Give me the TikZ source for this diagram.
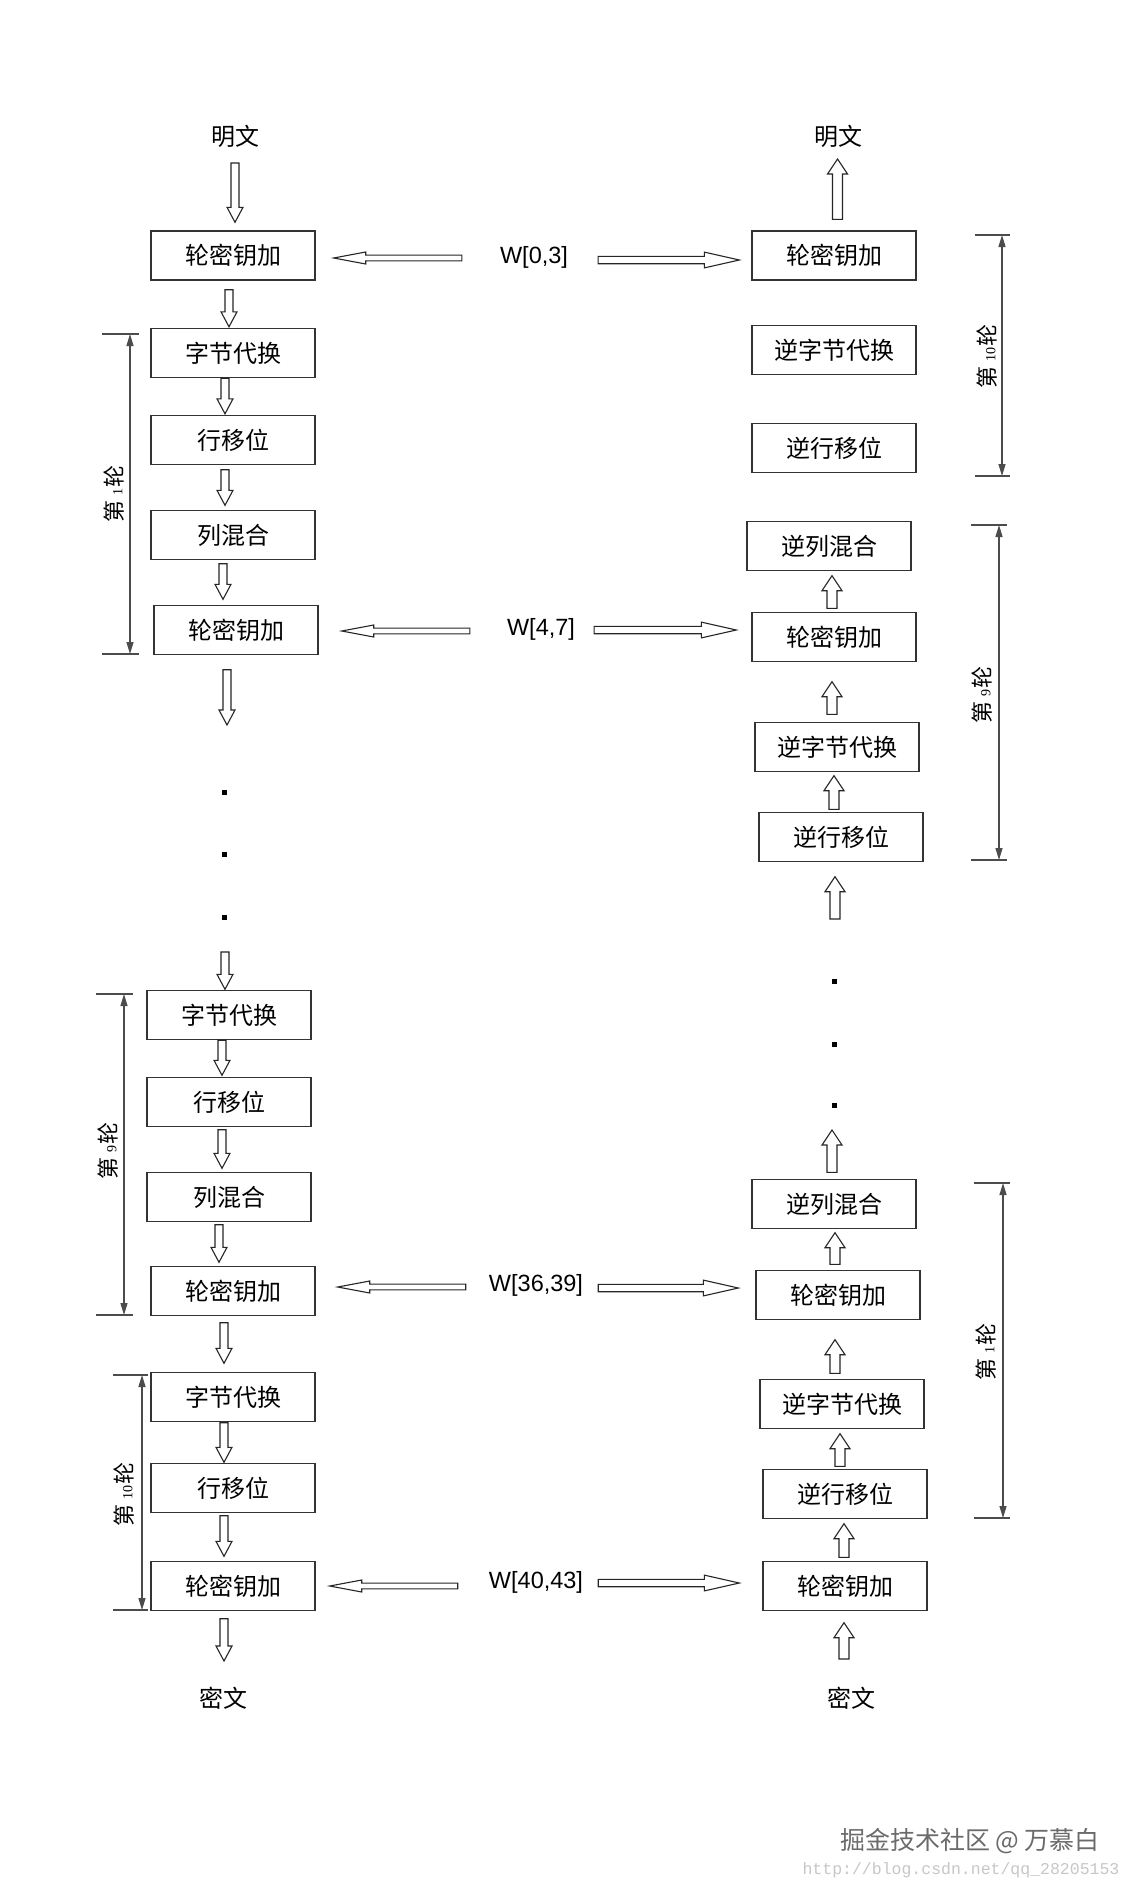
\documentclass[tikz,border=0pt]{standalone}
\usepackage{fontspec}
\setmainfont{Liberation Sans}
\newfontfamily\cjk{Noto Sans CJK SC}
\newfontfamily\numserif{Liberation Serif}
\newfontfamily\urlmono{Liberation Mono}
\usetikzlibrary{calc,arrows.meta}
\newcommand\rlabel[1]{第\hspace{5pt}{\numserif\fontsize{14}{14}\selectfont #1}\hspace{1pt}轮}
\begin{document}
\begin{tikzpicture}[x=1pt,y=-1pt,
  box/.style={draw=black!80, line width=1.4pt, minimum width=164pt, minimum height=49pt,
    inner sep=0pt, font=\cjk\fontsize{24}{28}\selectfont, text height=20pt, text depth=2pt},
  lbl/.style={inner sep=0pt, font=\cjk\fontsize{24}{28}\selectfont, text height=20pt, text depth=2pt},
  wl/.style={inner sep=0pt, font=\fontsize{23.5}{28}\selectfont},
  dotmark/.style={fill=black, rectangle, minimum size=5pt, inner sep=0pt},
  blk/.style n args={3}{draw=black!85, line width=1.1pt, fill=white, line join=miter,
    to path={let \p1=(\tikztostart), \p2=(\tikztotarget),
      \n1={atan2(\y2-\y1,\x2-\x1)}, \n2={veclen(\x2-\x1,\y2-\y1)} in
      [shift={(\p1)}, rotate=\n1]
      (0pt,{-#1*1pt}) -- ({(\n2-#3)*1pt},{-#1*1pt}) -- ({(\n2-#3)*1pt},{-#2*1pt})
      -- ({\n2*1pt},0pt) -- ({(\n2-#3)*1pt},{#2*1pt}) -- ({(\n2-#3)*1pt},{#1*1pt})
      -- (0pt,{#1*1pt}) -- cycle}},
  dwn/.style={blk={4}{8}{15}},
  upa/.style={blk={5}{10}{15}},
  hl/.style={blk={2.9}{6}{32}},
  hr/.style={blk={3.7}{7.9}{35}},
  tickline/.style={draw=black!70, line width=1.2pt},
  rng/.style={draw=black!70, line width=1.2pt,
    {Triangle[length=12pt,width=7pt]}-{Triangle[length=12pt,width=7pt]}},
  rot/.style={rotate=90, inner sep=0pt, font=\cjk\fontsize{22}{24}\selectfont},
]
\useasboundingbox (0,0) rectangle (1134,1890);
\fill[white] (0,0) rectangle (1134,1890);

% ---------- left column (encryption) ----------
\node[lbl] (mingL) at (235,136) {明文};
\node[box] (L0) at (233,255.5) {轮密钥加};
\node[box] (L1) at (233,353) {字节代换};
\node[box] (L2) at (233,440) {行移位};
\node[box] (L3) at (233,535) {列混合};
\node[box] (L4) at (236,630) {轮密钥加};
\node[dotmark] (dL1) at (224,792) {};
\node[dotmark] (dL2) at (224,854) {};
\node[dotmark] (dL3) at (224,917) {};
\node[box] (L5) at (229,1015) {字节代换};
\node[box] (L6) at (229,1102) {行移位};
\node[box] (L7) at (229,1197) {列混合};
\node[box] (L8) at (233,1291) {轮密钥加};
\node[box] (L9) at (233,1397) {字节代换};
\node[box] (L10) at (233,1488) {行移位};
\node[box] (L11) at (233,1586) {轮密钥加};
\node[lbl] (miL) at (223,1698) {密文};

% ---------- right column (decryption) ----------
\node[lbl] (mingR) at (838,136) {明文};
\node[box] (R0) at (834,255.5) {轮密钥加};
\node[box] (R1) at (834,350) {逆字节代换};
\node[box] (R2) at (834,448) {逆行移位};
\node[box] (R3) at (829,546) {逆列混合};
\node[box] (R4) at (834,637) {轮密钥加};
\node[box] (R5) at (837,747) {逆字节代换};
\node[box] (R6) at (841,837) {逆行移位};
\node[dotmark] (dR1) at (834,981) {};
\node[dotmark] (dR2) at (834,1044) {};
\node[dotmark] (dR3) at (834,1105) {};
\node[box] (R7) at (834,1204) {逆列混合};
\node[box] (R8) at (838,1295) {轮密钥加};
\node[box] (R9) at (842,1404) {逆字节代换};
\node[box] (R10) at (845,1494) {逆行移位};
\node[box] (R11) at (845,1586) {轮密钥加};
\node[lbl] (miR) at (851,1698) {密文};

% ---------- round keys ----------
\node[wl] (W0) at (534,257) {W[0,3]};
\node[wl] (W1) at (541,629) {W[4,7]};
\node[wl] (W2) at (536,1285) {W[36,39]};
\node[wl] (W3) at (536,1582) {W[40,43]};

% ---------- left flow arrows ----------
\draw[dwn] ($(mingL.center)+(0,27)$) to ($(L0.north)+(2,-8)$);
\draw[dwn] ($(L0.south)+(-4,9)$) to ($(L1.north)+(-4,-1)$);
\draw[dwn] ($(L1.south)+(-8,0)$) to ($(L2.north)+(-8,-1)$);
\draw[dwn] ($(L2.south)+(-8,4.5)$) to ($(L3.north)+(-8,-4.5)$);
\draw[dwn] ($(L3.south)+(-10,3.5)$) to ($(L4.north)+(-13,-5.5)$);
\draw[dwn] ($(L4.south)+(-9,14.5)$) to ($(dL1.center)+(3,-67)$);
\draw[dwn] ($(dL3.center)+(1,35)$) to ($(L5.north)+(-4,-0.5)$);
\draw[dwn] ($(L5.south)+(-7,0)$) to ($(L6.north)+(-7,-1.5)$);
\draw[dwn] ($(L6.south)+(-7,2.5)$) to ($(L7.north)+(-7,-3.5)$);
\draw[dwn] ($(L7.south)+(-10,2.5)$) to ($(L8.north)+(-14,-3.5)$);
\draw[dwn] ($(L8.south)+(-9,6.5)$) to ($(L9.north)+(-9,-8.5)$);
\draw[dwn] ($(L9.south)+(-9,0.5)$) to ($(L10.north)+(-9,-0.5)$);
\draw[dwn] ($(L10.south)+(-9,2.5)$) to ($(L11.north)+(-9,-4.5)$);
\draw[dwn] ($(L11.south)+(-9,7.5)$) to ($(miL.center)+(1,-37)$);

% ---------- right flow arrows ----------
\draw[upa] ($(R0.north)+(3.5,-11)$) to ($(mingR.center)+(-0.5,23)$);
\draw[upa] ($(R4.north)+(-2,-3.5)$) to ($(R3.south)+(3,4.5)$);
\draw[upa] ($(R5.north)+(-5,-7.5)$) to ($(R4.south)+(-2,19.5)$);
\draw[upa] ($(R6.north)+(-7,-2.5)$) to ($(R5.south)+(-3,3.5)$);
\draw[upa] ($(dR1.center)+(1,-62)$) to ($(R6.south)+(-6,14.5)$);
\draw[upa] ($(R7.north)+(-2,-6.5)$) to ($(dR3.center)+(-2,25)$);
\draw[upa] ($(R8.north)+(-3,-5.5)$) to ($(R7.south)+(1,3.5)$);
\draw[upa] ($(R9.north)+(-7,-5.5)$) to ($(R8.south)+(-3,19.5)$);
\draw[upa] ($(R10.north)+(-5,-2.5)$) to ($(R9.south)+(-2,4.5)$);
\draw[upa] ($(R11.north)+(-1,-3.5)$) to ($(R10.south)+(-1,4.5)$);
\draw[upa] ($(miR.center)+(-7,-39)$) to ($(R11.south)+(-1,11.5)$);

% ---------- key arrows ----------
\draw[hl] ($(W0.west)+(-38,1)$) to ($(L0.east)+(18,2.5)$);
\draw[hl] ($(W1.west)+(-37,2)$) to ($(L4.east)+(23,1)$);
\draw[hl] ($(W2.west)+(-23,2)$) to ($(L8.east)+(22,-4)$);
\draw[hl] ($(W3.west)+(-31,4)$) to ($(L11.east)+(14,0)$);
\draw[hr] ($(W0.east)+(30,3)$) to ($(R0.west)+(-12,4.5)$);
\draw[hr] ($(W1.east)+(19,1)$) to ($(R4.west)+(-15,-7)$);
\draw[hr] ($(W2.east)+(15,3)$) to ($(R8.west)+(-17,-7)$);
\draw[hr] ($(W3.east)+(15,1)$) to ($(R11.west)+(-23,-3)$);

% ---------- round brackets ----------
% left, round 1
\draw[tickline] (102,334) -- (139,334);
\draw[tickline] (102,654) -- (139,654);
\coordinate (bl1t) at (130,334); \coordinate (bl1b) at (130,654);
\draw[rng] (bl1t) -- (bl1b);
\node[rot] (tl1) at (114,494) {\rlabel{1}};
% left, round 9
\draw[tickline] (96,994) -- (133,994);
\draw[tickline] (96,1315) -- (133,1315);
\coordinate (bl9t) at (124,994); \coordinate (bl9b) at (124,1315);
\draw[rng] (bl9t) -- (bl9b);
\node[rot] (tl9) at (108,1151) {\rlabel{9}};
% left, round 10
\draw[tickline] (113,1375) -- (148,1375);
\draw[tickline] (113,1610) -- (148,1610);
\coordinate (bl10t) at (142,1375); \coordinate (bl10b) at (142,1610);
\draw[rng] (bl10t) -- (bl10b);
\node[rot] (tl10) at (124,1494) {\rlabel{10}};
% right, round 10
\draw[tickline] (975,235) -- (1010,235);
\draw[tickline] (975,476) -- (1010,476);
\coordinate (br10t) at (1002,235); \coordinate (br10b) at (1002,476);
\draw[rng] (br10t) -- (br10b);
\node[rot] (tr10) at (987,356) {\rlabel{10}};
% right, round 9
\draw[tickline] (971,525) -- (1007,525);
\draw[tickline] (971,860) -- (1007,860);
\coordinate (br9t) at (999,525); \coordinate (br9b) at (999,860);
\draw[rng] (br9t) -- (br9b);
\node[rot] (tr9) at (982,695) {\rlabel{9}};
% right, round 1
\draw[tickline] (974,1183) -- (1010,1183);
\draw[tickline] (974,1518) -- (1010,1518);
\coordinate (br1t) at (1003,1183); \coordinate (br1b) at (1003,1518);
\draw[rng] (br1t) -- (br1b);
\node[rot] (tr1) at (986,1352) {\rlabel{1}};

% ---------- watermark ----------
\node[inner sep=0pt, text=black!58, font=\cjk\fontsize{25}{30}\selectfont] (wm) at (970,1841) {掘金技术社区 @ 万慕白};
\node[inner sep=0pt, text=black!22, font=\urlmono\fontsize{16.5}{20}\selectfont] (url) at (961,1870) {http://blog.csdn.net/qq\_28205153};
\end{tikzpicture}
\end{document}
